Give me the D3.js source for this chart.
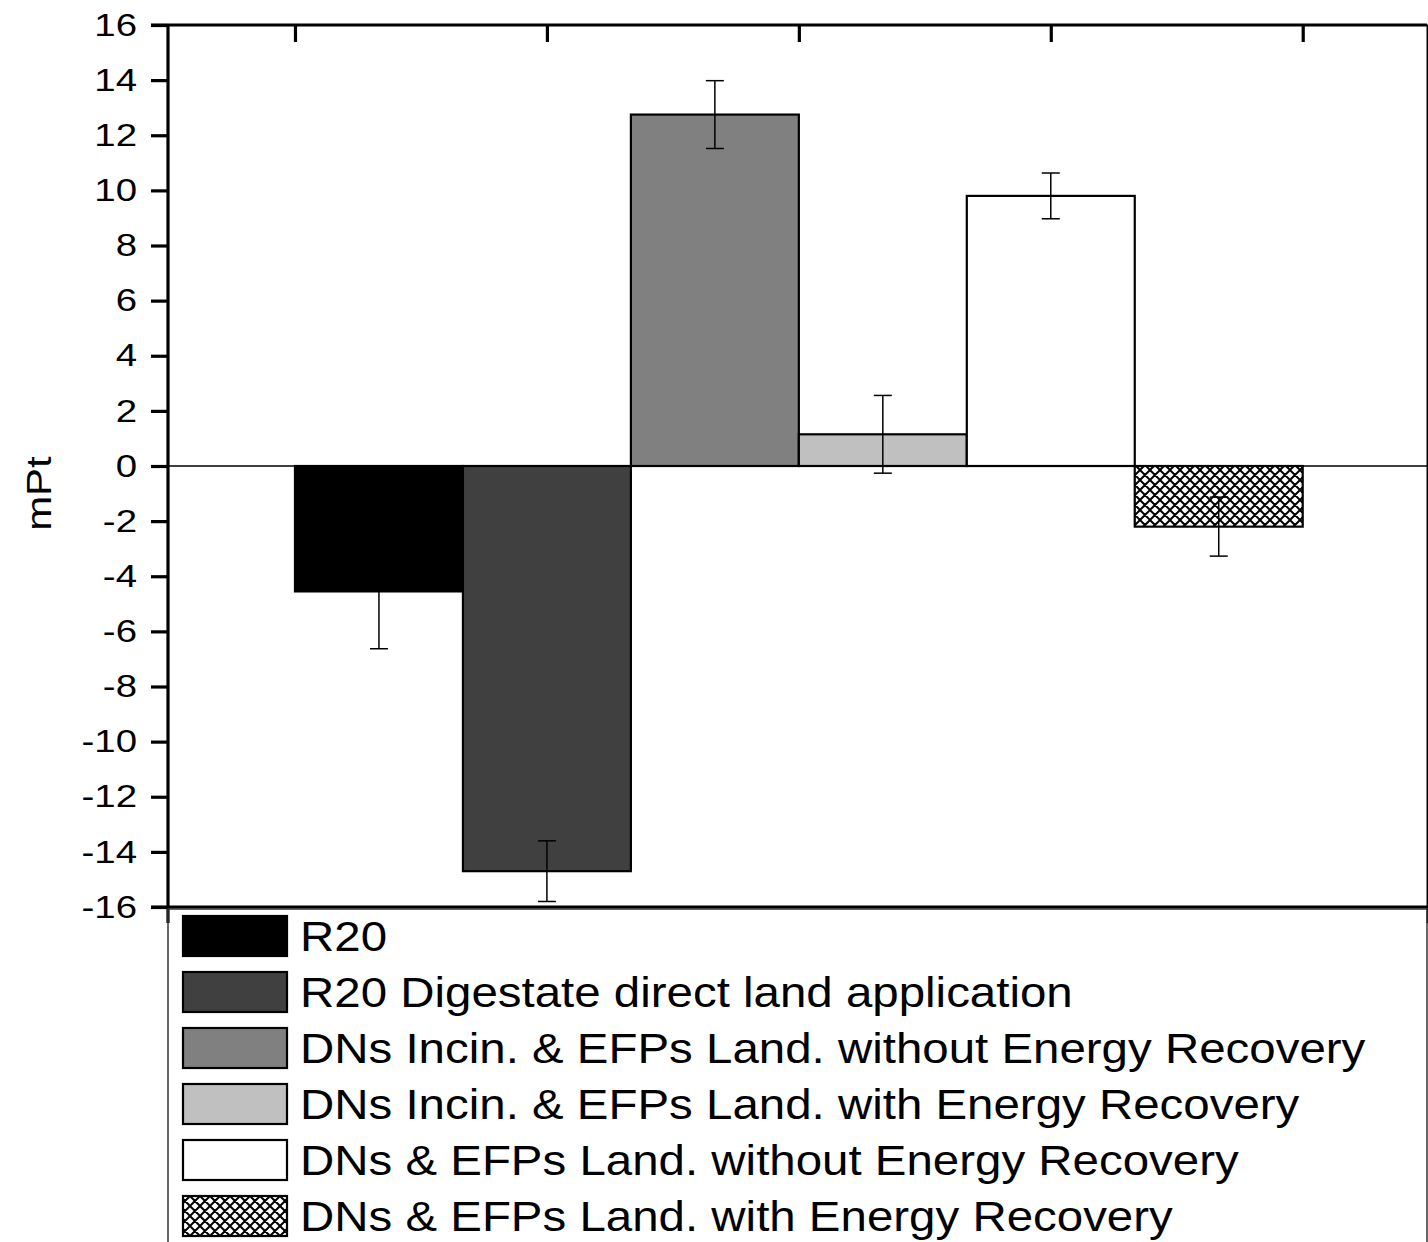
<!DOCTYPE html>
<html>
<head>
<meta charset="utf-8">
<script src="https://cdn.jsdelivr.net/npm/d3@7"></script>
<style>
  body { margin: 0; background: #fff; }
  svg { display: block; font-family: Arial, "Liberation Sans", sans-serif; }
</style>
</head>
<body>
<svg id="chart" width="1428" height="1242"></svg>
<script>
// series shown in the chart (one bar each)
var categories = [
    'R20',
    'R20 Digestate direct land application',
    'DNs Incin. & EFPs Land. without Energy Recovery',
    'DNs Incin. & EFPs Land. with Energy Recovery',
    'DNs & EFPs Land. without Energy Recovery',
    'DNs & EFPs Land. with Energy Recovery'
];
var values = [-4.55, -14.7, 12.75, 1.15, 9.8, -2.2];
var errors = [2.08, 1.1, 1.23, 1.41, 0.83, 1.07];
var fills = ['#000000', '#404040', '#808080', '#c0c0c0', '#ffffff', 'url(#hatch)'];
var yTicks = [-16, -14, -12, -10, -8, -6, -4, -2, 0, 2, 4, 6, 8, 10, 12, 14, 16];
var xTicks = [0, 1.5, 3, 4.5, 6];

(function(){
var svg = d3.select('#chart');
var pLeft = 168, pTop = 25, pRight = 1427, pBottom = 907;
var stretch = 1.2; // glyphs in the figure are wider than plain Arial

var x = d3.scaleLinear().domain([-0.756, 6.74]).range([pLeft, pRight]);
var y = d3.scaleLinear().domain([-16, 16]).range([pBottom, pTop]);

// crosshatch pattern for last bar
var pat = svg.append('defs').append('pattern')
    .attr('id', 'hatch')
    .attr('patternUnits', 'userSpaceOnUse')
    .attr('width', 10).attr('height', 10);
pat.append('rect').attr('width', 10).attr('height', 10).attr('fill', '#fff');
pat.append('path')
    .attr('d', 'M0,0L10,10M10,0L0,10M-1,9L1,11M9,-1L11,1M-1,1L1,-1M9,11L11,9')
    .attr('stroke', '#000').attr('stroke-width', 2);

// zero line
svg.append('line')
    .attr('x1', pLeft).attr('x2', pRight)
    .attr('y1', y(0)).attr('y2', y(0))
    .attr('stroke', '#000').attr('stroke-width', 1.5);

// bars
svg.append('g').selectAll('rect')
    .data(values)
    .join('rect')
    .attr('x', function(d, i){ return x(i); })
    .attr('width', function(d, i){ return x(i + 1) - x(i); })
    .attr('y', function(d){ return y(Math.max(0, d)); })
    .attr('height', function(d){ return Math.abs(y(d) - y(0)); })
    .attr('fill', function(d, i){ return fills[i]; })
    .attr('stroke', '#000')
    .attr('stroke-width', 2.2);

// error bars
var eb = svg.append('g').selectAll('g')
    .data(values)
    .join('g')
    .attr('stroke', '#000')
    .attr('stroke-width', 1.5);
eb.append('line')
    .attr('x1', function(d, i){ return x(i + 0.5); })
    .attr('x2', function(d, i){ return x(i + 0.5); })
    .attr('y1', function(d, i){ return y(d + errors[i]); })
    .attr('y2', function(d, i){ return y(d - errors[i]); });
eb.append('line')
    .attr('x1', function(d, i){ return x(i + 0.5) - 9; })
    .attr('x2', function(d, i){ return x(i + 0.5) + 9; })
    .attr('y1', function(d, i){ return y(d + errors[i]); })
    .attr('y2', function(d, i){ return y(d + errors[i]); });
eb.append('line')
    .attr('x1', function(d, i){ return x(i + 0.5) - 9; })
    .attr('x2', function(d, i){ return x(i + 0.5) + 9; })
    .attr('y1', function(d, i){ return y(d - errors[i]); })
    .attr('y2', function(d, i){ return y(d - errors[i]); });

// axes
var yAxis = svg.append('g')
    .attr('transform', 'translate(' + pLeft + ',0)')
    .call(d3.axisLeft(y).tickValues(yTicks).tickSize(17).tickPadding(14).tickFormat(function(d){ return String(d); }));
var yAxisR = svg.append('g')
    .attr('transform', 'translate(' + (pRight + 0.5) + ',0)')
    .call(d3.axisLeft(y).tickValues(yTicks).tickSize(-17).tickFormat(''));
var xAxisT = svg.append('g')
    .attr('transform', 'translate(0,' + pTop + ')')
    .call(d3.axisTop(x).tickValues(xTicks).tickSize(-17).tickFormat(''));
var xAxisB = svg.append('g')
    .attr('transform', 'translate(0,' + pBottom + ')')
    .call(d3.axisBottom(x).tickValues([]).tickSizeOuter(0));

[yAxis, yAxisR, xAxisT, xAxisB].forEach(function(a){
    a.select('.domain').attr('stroke', '#000').attr('stroke-width', 3.2);
    a.selectAll('.tick line').attr('stroke', '#000').attr('stroke-width', 3.2);
});
xAxisT.select('.domain').attr('d', 'M' + (pLeft - 17) + ',0H' + pRight);
xAxisB.select('.domain').attr('d', 'M' + (pLeft - 17) + ',0H' + pRight);
yAxis.select('.domain').attr('d', 'M0,' + pTop + 'V' + (pBottom + 16));
yAxisR.select('.domain').attr('stroke-width', 2).attr('d', 'M0,' + pTop + 'V' + (pBottom + 16));
yAxis.selectAll('.tick text')
    .attr('font-size', 32)
    .attr('fill', '#000')
    .attr('font-family', 'Arial, "Liberation Sans", sans-serif')
    .attr('x', -31 / stretch)
    .attr('transform', 'scale(' + stretch + ',1)');

// y label
svg.append('text')
    .attr('transform', 'translate(51,' + y(-1) + ') rotate(-90) scale(' + stretch + ',1)')
    .attr('text-anchor', 'middle')
    .attr('font-size', 35)
    .text('mPt');

// legend
var lg = svg.append('g');
lg.append('rect')
    .attr('x', pLeft).attr('y', pBottom + 2)
    .attr('width', pRight - pLeft).attr('height', 400)
    .attr('fill', 'none')
    .attr('stroke', '#333').attr('stroke-width', 1.5);
var rows = lg.selectAll('g.row')
    .data(categories)
    .join('g')
    .attr('class', 'row')
    .attr('transform', function(d, i){ return 'translate(0,' + (936 + i * 56) + ')'; });
rows.append('rect')
    .attr('x', 183).attr('y', -20)
    .attr('width', 104).attr('height', 40)
    .attr('fill', function(d, i){ return fills[i]; })
    .attr('stroke', '#000').attr('stroke-width', 2.2);
rows.append('text')
    .attr('transform', 'translate(300,15) scale(1.13,1)')
    .attr('font-size', 42)
    .text(function(d){ return d; });
})();
</script>
</body>
</html>
